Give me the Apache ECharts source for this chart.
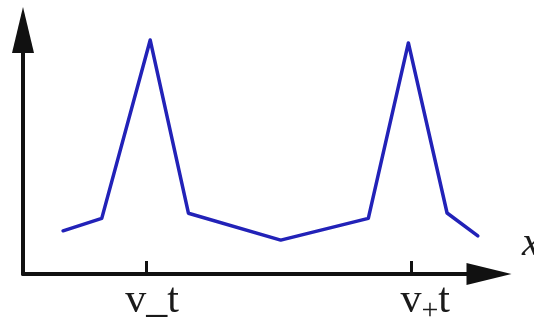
<!DOCTYPE html>
<html>
<head>
<meta charset="utf-8">
<script src="https://cdn.jsdelivr.net/npm/echarts@6/dist/echarts.min.js"></script>
<style>html,body{margin:0;padding:0;background:#fff}#c{width:534px;height:331px}</style>
</head>
<body>
<div id="c"></div>
<script>
// data
const xValues = [8.6, 16.9, 27.3, 35.5, 55.3, 74.1, 82.7, 91.0, 97.6];
const yValues = [17.7, 22.8, 95.9, 24.9, 13.9, 22.8, 94.7, 25.0, 15.6];
const tickValues = [26.4, 83.3];
const tickLabels = ['v_t', 'v+t'];
const axisName = 'x';

const chart = echarts.init(document.getElementById('c'), null, {renderer: 'canvas'});
const points = xValues.map((x, i) => [x, yValues[i]]);

function fmtLabel(val) {
  let idx = 0, best = Infinity;
  tickValues.forEach((t, i) => { const d = Math.abs(t - val); if (d < best) { best = d; idx = i; } });
  const s = tickLabels[idx];
  if (s.indexOf('+') === 1) {
    return '{b|' + s[0] + '}{sub|+}{c|' + s.slice(2) + '}';
  }
  return '{a|' + s + '}';
}

const FONT = "'Liberation Serif', 'Times New Roman', serif";
chart.setOption({
  animation: false,
  grid: {left: 23, right: 45, top: 30, bottom: 57, containLabel: false, outerBoundsMode: 'none'},
  xAxis: {
    type: 'value', min: 0, max: 100,
    name: axisName, nameLocation: 'end', nameGap: 33,
    nameTextStyle: {fontFamily: FONT, fontSize: 40, color: '#1a1a1a', fontStyle: 'italic', verticalAlign: 'bottom', padding: [0, 0, 10, 0]},
    axisLine: {show: true, onZero: false, symbol: ['none', 'triangle'], symbolSize: [22, 45], lineStyle: {color: '#111', width: 4}},
    axisTick: {show: true, inside: true, length: 13, customValues: tickValues, lineStyle: {color: '#111', width: 3}},
    axisLabel: {
      show: true, customValues: tickValues, margin: 6, formatter: fmtLabel,
      rich: {
        a: {fontFamily: FONT, fontSize: 42, lineHeight: 42, color: '#1a1a1a', padding: [0, 0, 0, 12], verticalAlign: 'top'},
        b: {fontFamily: FONT, fontSize: 42, lineHeight: 42, color: '#1a1a1a', padding: [0, 0, 0, 28], verticalAlign: 'top'},
        sub: {fontFamily: FONT, fontSize: 30, lineHeight: 42, color: '#1a1a1a', padding: [16, 0, 0, 0], verticalAlign: 'top'},
        c: {fontFamily: FONT, fontSize: 42, lineHeight: 42, color: '#1a1a1a', verticalAlign: 'top'}
      }
    },
    splitLine: {show: false}
  },
  yAxis: {
    type: 'value', min: 0, max: 100,
    axisLine: {show: true, onZero: false, symbol: ['none', 'triangle'], symbolSize: [22, 46], lineStyle: {color: '#111', width: 4}},
    axisTick: {show: false},
    axisLabel: {show: false},
    splitLine: {show: false}
  },
  series: [{
    type: 'line',
    data: points,
    showSymbol: false,
    symbol: 'none',
    lineStyle: {color: '#2222b8', width: 3.5, join: 'round', cap: 'round'},
    z: 3
  }]
});
</script>
</body>
</html>
